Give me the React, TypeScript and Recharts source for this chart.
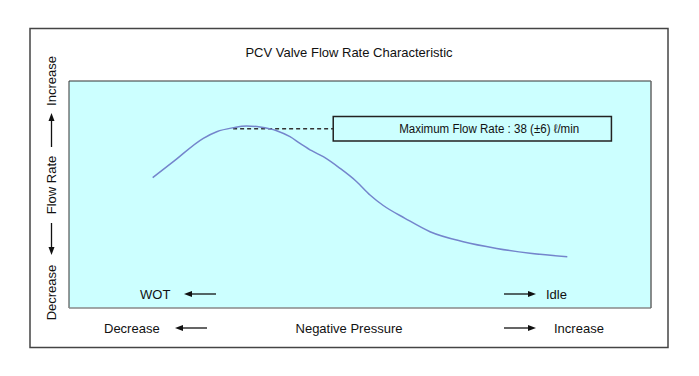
import React from "react";
import {
  LineChart,
  Line,
  XAxis,
  YAxis,
  CartesianGrid,
  ReferenceLine,
  ReferenceArea,
  Customized,
} from "recharts";

// Negative pressure (0..100, relative) vs flow rate (0..100, relative)
const pressure = [14.38, 17.92, 23.08, 25.38, 28.23, 30.53, 32.82, 35.69, 37.97, 39.69, 41.7, 43.69, 46.56, 49.43, 51.72, 54.0, 57.73, 62.03, 67.75, 73.49, 79.21, 85.62];
const flowRate = [57.4, 64.45, 74.76, 77.67, 79.43, 80.18, 79.74, 78.11, 75.46, 72.56, 69.3, 66.65, 61.54, 55.64, 49.78, 45.15, 39.52, 33.61, 29.21, 26.26, 24.1, 22.6];

// Maximum flow-rate callout (in the same relative units)
const maxLineX = [28.2, 45.4];
const maxLineY = 79.0;
const calloutX = [45.4, 93.2];
const calloutY = [73.6, 84.4];

const title = "PCV Valve Flow Rate Characteristic";
const calloutText = "Maximum Flow Rate : 38 (\u00b16) \u2113/min";
const yLabels = ["Decrease", "Flow Rate", "Increase"];
const xLabels = ["Decrease", "Negative Pressure", "Increase"];
const innerLabels = ["WOT", "Idle"];

const data = pressure.map((p, i) => ({ p, f: flowRate[i] }));

const W = 699;
const H = 376;
const MARGIN = { top: 81, right: 48, bottom: 68, left: 69 };
const FONT = "'Liberation Sans', Arial, Helvetica, sans-serif";
const FS = 13;

function Arrow({ x1, y1, x2, y2 }: { x1: number; y1: number; x2: number; y2: number }) {
  const dx = x2 - x1;
  const dy = y2 - y1;
  const len = Math.sqrt(dx * dx + dy * dy);
  const ux = dx / len;
  const uy = dy / len;
  const hl = 8;
  const hw = 3;
  const bx = x2 - ux * hl;
  const by = y2 - uy * hl;
  const px = -uy;
  const py = ux;
  return (
    <g>
      <line x1={x1} y1={y1} x2={bx} y2={by} stroke="#111" strokeWidth={1.3} />
      <polygon
        points={`${x2},${y2} ${bx + px * hw},${by + py * hw} ${bx - px * hw},${by - py * hw}`}
        fill="#111"
      />
    </g>
  );
}

function Decor() {
  const left = MARGIN.left;
  const top = MARGIN.top;
  const right = W - MARGIN.right;
  const bottom = H - MARGIN.bottom;
  const vx = 51.5;
  const txt = { fontFamily: FONT, fontSize: FS, fill: "#111" } as const;
  return (
    <g>
      {/* outer frame */}
      <rect x={30} y={28.5} width={638} height={319} fill="none" stroke="#444" strokeWidth={1.5} />
      {/* plot frame */}
      <line x1={left} y1={top} x2={right} y2={top} stroke="#333" strokeWidth={1} />
      <line x1={left} y1={top} x2={left} y2={bottom} stroke="#333" strokeWidth={1} />
      <line x1={left} y1={bottom} x2={right} y2={bottom} stroke="#888" strokeWidth={1.5} />
      <line x1={right} y1={top} x2={right} y2={bottom} stroke="#666" strokeWidth={1.5} />
      {/* title */}
      <text x={349} y={57} textAnchor="middle" {...txt}>{title}</text>
      {/* vertical axis label */}
      <text x={vx} y={292.5} textAnchor="middle" dominantBaseline="central" transform={`rotate(-90, ${vx}, 292.5)`} {...txt}>{yLabels[0]}</text>
      <text x={vx} y={185} textAnchor="middle" dominantBaseline="central" transform={`rotate(-90, ${vx}, 185)`} {...txt}>{yLabels[1]}</text>
      <text x={vx} y={81} textAnchor="middle" dominantBaseline="central" transform={`rotate(-90, ${vx}, 81)`} {...txt}>{yLabels[2]}</text>
      <Arrow x1={vx} y1={147} x2={vx} y2={113} />
      <Arrow x1={vx} y1={223} x2={vx} y2={255} />
      {/* horizontal axis label */}
      <text x={104} y={333} {...txt}>{xLabels[0]}</text>
      <Arrow x1={207} y1={328} x2={175} y2={328} />
      <text x={349} y={333} textAnchor="middle" {...txt}>{xLabels[1]}</text>
      <Arrow x1={504} y1={328} x2={536} y2={328} />
      <text x={554} y={333} {...txt}>{xLabels[2]}</text>
      {/* inner labels */}
      <text x={140} y={299} {...txt}>{innerLabels[0]}</text>
      <Arrow x1={216} y1={294} x2={184} y2={294} />
      <Arrow x1={504} y1={294} x2={536} y2={294} />
      <text x={546} y={299} {...txt}>{innerLabels[1]}</text>
    </g>
  );
}

function CalloutLabel(props: any) {
  const vb = props.viewBox || {};
  return (
    <text
      x={vb.x + 66}
      y={vb.y + vb.height / 2}
      dominantBaseline="central"
      fontFamily={FONT}
      fontSize={12.5}
      fill="#111"
      textLength={180}
      lengthAdjust="spacingAndGlyphs"
    >
      {calloutText}
    </text>
  );
}

export default function App() {
  return (
    <div style={{ position: "absolute", left: 0, top: 0, background: "#fff" }}>
      <LineChart width={W} height={H} data={data} margin={MARGIN}>
        <CartesianGrid horizontal={false} vertical={false} fill="#CCFFFF" />
        <XAxis type="number" dataKey="p" domain={[0, 100]} hide />
        <YAxis type="number" domain={[0, 100]} hide />
        <ReferenceLine
          segment={[
            { x: maxLineX[0], y: maxLineY },
            { x: maxLineX[1], y: maxLineY },
          ]}
          stroke="#333"
          strokeWidth={1.5}
          strokeDasharray="4 3"
        />
        <ReferenceArea
          x1={calloutX[0]}
          x2={calloutX[1]}
          y1={calloutY[0]}
          y2={calloutY[1]}
          fill="#CCFFFF"
          fillOpacity={1}
          stroke="#222"
          strokeWidth={1.5}
          label={<CalloutLabel />}
        />
        <Line
          type="monotone"
          dataKey="f"
          stroke="#7485cc"
          strokeWidth={1.5}
          dot={false}
          isAnimationActive={false}
        />
        <Customized component={<Decor />} />
      </LineChart>
    </div>
  );
}
